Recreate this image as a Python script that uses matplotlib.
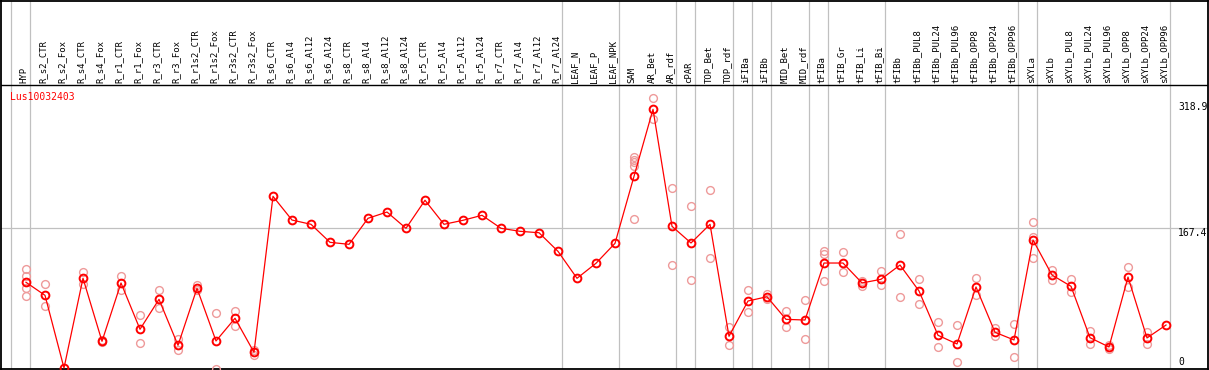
import matplotlib
matplotlib.use("Agg")
import matplotlib.pyplot as plt

# column labels
labels = ["HYP", "R_s2_CTR", "R_s2_Fox", "R_s4_CTR", "R_s4_Fox", "R_r1_CTR", "R_r1_Fox",
          "R_r3_CTR", "R_r3_Fox", "R_r1s2_CTR", "R_r1s2_Fox", "R_r3s2_CTR", "R_r3s2_Fox",
          "R_s6_CTR", "R_s6_Al4", "R_s6_Al12", "R_s6_Al24", "R_s8_CTR", "R_s8_Al4",
          "R_s8_Al12", "R_s8_Al24", "R_r5_CTR", "R_r5_Al4", "R_r5_Al12", "R_r5_Al24",
          "R_r7_CTR", "R_r7_Al4", "R_r7_Al12", "R_r7_Al24", "LEAF_N", "LEAF_P", "LEAF_NPK",
          "SAM", "AR_Bet", "AR_rdf", "cPAR", "TOP_Bet", "TOP_rdf", "iFIBa", "iFIBb",
          "MID_Bet", "MID_rdf", "tFIBa", "tFIB_Gr", "tFIB_Li", "tFIB_Bi", "tFIBb",
          "tFIBb_PUL8", "tFIBb_PUL24", "tFIBb_PUL96", "tFIBb_OPP8", "tFIBb_OPP24",
          "tFIBb_OPP96", "sXYLa", "sXYLb", "sXYLb_PUL8", "sXYLb_PUL24", "sXYLb_PUL96",
          "sXYLb_OPP8", "sXYLb_OPP24", "sXYLb_OPP96"]

# mean expression per sample
means = [102.7, 87.1, 0.0, 107.5, 32.0, 101.9, 46.4, 82.3, 27.2, 95.5, 32.4, 59.6, 18.8,
         205.7, 177.3, 172.2, 150.6, 148.2, 179.4, 186.9, 167.4, 201.0, 172.2, 177.0, 183.0,
         167.4, 163.8, 162.1, 139.8, 107.5, 125.5, 149.4,
         229.7, 310.0, 169.8, 149.8, 172.2, 38.0, 80.3, 85.4, 58.3, 57.5,
         125.8, 125.8, 101.9, 106.3, 123.4, 92.3, 39.2, 28.8, 97.1, 42.8, 33.6,
         153.4, 111.4, 97.9, 36.3, 25.2, 109.0, 36.0, 51.5]

# replicate values (only the ones visible apart from the mean)
reps = [[118.6, 110.6, 96.2, 85.9], [100.7, 73.9], [], [114.7, 100.7], [33.0, 31.0],
        [109.9, 93.8], [63.1, 29.6], [93.1, 71.5], [34.8, 21.2], [99.5, 94.0],
        [65.5, -1.2], [68.3, 50.7], [21.6, 16.0],
        [], [], [], [], [], [], [], [], [], [], [], [], [], [], [], [], [], [], [],
        [252.5, 249.2, 246.5, 242.4, 178.2], [323.2, 298.0], [215.3, 123.1],
        [193.8, 105.1], [212.9, 131.5], [49.1, 27.2], [93.5, 66.7], [88.3, 82.7],
        [68.3, 48.8], [81.5, 34.8],
        [140.2, 136.2, 104.3], [138.6, 114.7], [104.0, 98.0], [116.2, 99.1],
        [160.6, 84.7], [106.3, 76.7], [54.8, 25.2], [51.2, 7.2], [107.8, 87.5],
        [48.3, 38.0], [52.4, 13.2],
        [174.6, 157.3, 131.5], [117.4, 105.1], [106.3, 91.1], [44.7, 28.4],
        [27.6, 22.4], [121.0, 97.4], [43.1, 28.4], []]

# last column of each group (grey separators)
group_ends = [-1, 0, 28, 31, 34, 35, 37, 38, 39, 41, 42, 45, 52, 53, 60]

gene = "Lus10032403"
yticks = [318.9, 167.4, 0]

mono = "DejaVu Sans Mono"
W, H = 1209, 370
fig = plt.figure(figsize=(W / 100, H / 100), dpi=100)
ax = fig.add_axes([1 / W, 1 / H, 1207 / W, 368.5 / H])

x = list(range(len(labels)))

for g in group_ends:
    ax.axvline(g + 0.22, color="#c0c0c0", lw=0.9, zorder=1)
ax.axhline(167.4, color="#c0c0c0", lw=0.9, zorder=1)
ax.axhline(339.1, color="black", lw=1.0, zorder=2)

for i, vals in enumerate(reps):
    if vals:
        ax.plot([i] * len(vals), vals, "o", ms=5.6, mfc="none", mec="#ee9a9a",
                mew=1.0, zorder=3, clip_on=False)

ax.plot(x, means, "-", color="red", lw=0.9, zorder=4)
ax.plot(x, means, "o", ms=5.6, mfc="none", mec="red", mew=1.4, zorder=5, clip_on=False)

for i, lab in enumerate(labels):
    ax.text(i - 0.1, 341.5, lab, rotation=90, ha="center", va="bottom",
            fontsize=6.5, family=mono)

ax.text(-0.84, 324.7, gene, color="red", fontsize=7, family=mono, ha="left", va="center")

for v in yticks[:2]:
    ax.text(60.63, v, f"{v}", fontsize=7, family=mono, ha="left", va="top")
ax.text(60.63, 7.2, f"{yticks[2]}", fontsize=7, family=mono, ha="left", va="center")

ax.set_xlim(-25 / 19, 1182 / 19)
ax.set_ylim(-1.2, 440.4)
ax.set_xticks([])
ax.set_yticks([])
for s in ax.spines.values():
    s.set_linewidth(1.3)
    s.set_color("black")

fig.savefig("out.png", dpi=100)
